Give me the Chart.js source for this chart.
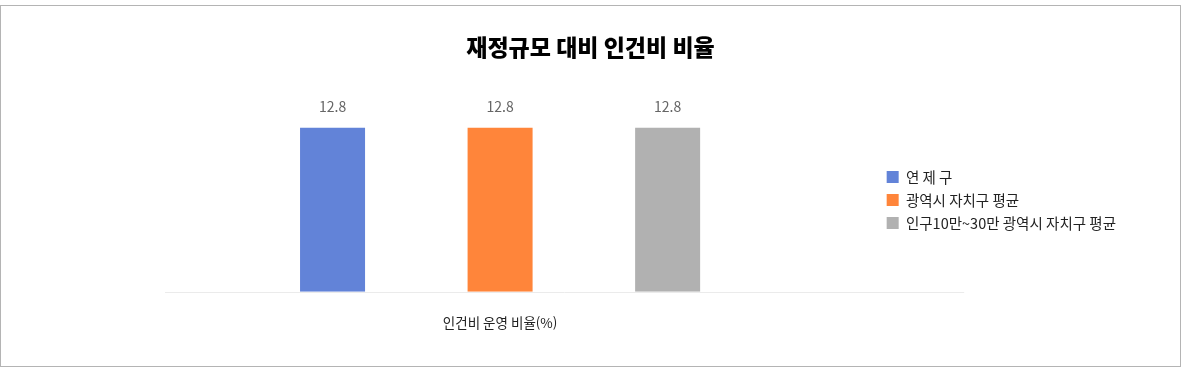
<!DOCTYPE html>
<html lang="ko">
<head>
<meta charset="utf-8">
<script src="https://cdn.jsdelivr.net/npm/chart.js@4"></script>
<style>
    body { margin: 0; background: #fff; }
    .graph-container {
        position: absolute; left: 0; top: 5px;
        width: 1181px; height: 362px;
        box-sizing: border-box; border: 1px solid #b4b4b4;
    }
</style>
</head>
<body>
<div class="graph-container"><canvas id="chart" width="1179" height="360"></canvas></div>
<script>
const categories = ['인건비 운영 비율(%)'];
const seriesNames = ['연 제 구', '광역시 자치구 평균', '인구10만~30만 광역시 자치구 평균'];
const yeonjeguValues = [12.8];
const gwangyeokValues = [12.8];
const ingu10to30Values = [12.8];
const seriesColors = ['#6283d8', '#ff853a', '#b1b1b1'];

const FONT = '"Noto Sans CJK KR", "Noto Sans", sans-serif';

// valeurs au-dessus des barres
const valueLabels = {
    id: 'valueLabels',
    afterDatasetsDraw(chart) {
        const ctx = chart.ctx;
        ctx.save();
        ctx.font = '14px ' + FONT;
        ctx.fillStyle = '#666';
        ctx.textAlign = 'center';
        ctx.textBaseline = 'middle';
        chart.data.datasets.forEach((ds, i) => {
            chart.getDatasetMeta(i).data.forEach((bar, j) => {
                ctx.fillText(ds.data[j].toFixed(1), bar.x, bar.y - 21);
            });
        });
        ctx.restore();
    }
};

// ligne de base qui dépasse sous la légende
const baseLine = {
    id: 'baseLine',
    beforeDatasetsDraw(chart) {
        const { ctx, chartArea, scales } = chart;
        const y = Math.round(scales.y.getPixelForValue(0)) + 0.5;
        ctx.save();
        ctx.strokeStyle = '#ebebeb';
        ctx.lineWidth = 1;
        ctx.beginPath();
        ctx.moveTo(chartArea.left, y);
        ctx.lineTo(chartArea.right + 129, y);
        ctx.stroke();
        ctx.restore();
    }
};

// recentre le titre sur tout le canvas et décale la légende
const layoutFix = {
    id: 'layoutFix',
    afterLayout(chart) {
        const t = chart.titleBlock;
        t.left = 0;
        t.right = chart.width;
        t.width = chart.width;

        const lg = chart.legend;
        const dx = chart.chartArea.right + 43 - lg.left;
        lg.left += dx;
        lg.right += dx;
        lg.top += 20;
        lg.bottom += 20;
    }
};

const ctx = document.getElementById('chart').getContext('2d');
new Chart(ctx, {
    type: 'bar',
    data: {
        labels: categories,
        datasets: [
            { label: seriesNames[0], data: yeonjeguValues, backgroundColor: seriesColors[0] },
            { label: seriesNames[1], data: gwangyeokValues, backgroundColor: seriesColors[1] },
            { label: seriesNames[2], data: ingu10to30Values, backgroundColor: seriesColors[2] }
        ]
    },
    options: {
        responsive: false,
        animation: false,
        layout: { padding: { left: 164, right: 97, top: 0, bottom: 12 } },
        datasets: { bar: { categoryPercentage: 0.75, barPercentage: 0.388 } },
        plugins: {
            title: {
                display: true,
                text: '재정규모 대비 인건비 비율',
                color: '#000',
                font: { family: FONT, size: 23, weight: '900' },
                padding: { top: 27, bottom: 26 }
            },
            legend: {
                position: 'right',
                labels: {
                    color: '#222',
                    font: { family: FONT, size: 14.5 },
                    boxWidth: 12,
                    boxHeight: 12,
                    padding: 8.5
                }
            },
            tooltip: { enabled: false }
        },
        scales: {
            x: {
                grid: { display: false, drawTicks: false },
                border: { display: false },
                ticks: { color: '#222', font: { family: FONT, size: 13.5 }, padding: 23 }
            },
            y: {
                display: false,
                beginAtZero: true,
                max: 16
            }
        }
    },
    plugins: [valueLabels, baseLine, layoutFix]
});
</script>
</body>
</html>
